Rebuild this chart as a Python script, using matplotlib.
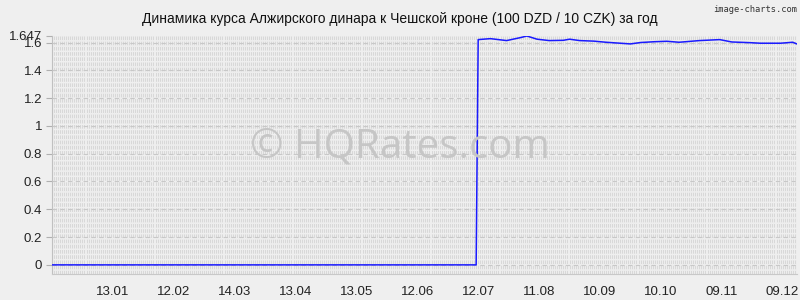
import datetime as dt
import matplotlib
matplotlib.use("Agg")
import matplotlib.pyplot as plt
import numpy as np

plt.rcParams['font.family'] = ['Liberation Sans', 'DejaVu Sans']

title = "Динамика курса Алжирского динара к Чешской кроне (100 DZD / 10 CZK) за год"
watermark = "© HQRates.com"

# rate per day (100 DZD / 10 CZK)
dates = ["2012-12-14", "2013-07-10", "2013-07-11",
         "2013-07-12", "2013-07-18", "2013-07-26", "2013-08-02", "2013-08-05",
         "2013-08-10", "2013-08-16", "2013-08-23", "2013-08-26", "2013-08-31",
         "2013-09-07", "2013-09-13", "2013-09-20", "2013-09-25", "2013-09-30",
         "2013-10-07", "2013-10-13", "2013-10-19", "2013-10-29", "2013-11-08",
         "2013-11-14", "2013-11-23", "2013-11-28", "2013-12-08", "2013-12-14",
         "2013-12-16"]
rates = [0, 0, 0,
         1.621, 1.628, 1.614, 1.636, 1.647,
         1.624, 1.614, 1.616, 1.624, 1.614,
         1.610, 1.602, 1.595, 1.590, 1.600,
         1.606, 1.609, 1.602, 1.614, 1.621,
         1.604, 1.599, 1.595, 1.595, 1.602,
         1.590]

tick_dates = ["2013-01-13", "2013-02-12", "2013-03-14", "2013-04-13",
              "2013-05-13", "2013-06-12", "2013-07-12", "2013-08-11",
              "2013-09-10", "2013-10-10", "2013-11-09", "2013-12-09"]
tick_labels = ["13.01", "12.02", "14.03", "13.04", "13.05", "12.06",
               "12.07", "11.08", "10.09", "10.10", "09.11", "09.12"]
y_ticks = [0, 0.2, 0.4, 0.6, 0.8, 1, 1.2, 1.4, 1.6, 1.647]
y_labels = ["0", "0.2", "0.4", "0.6", "0.8", "1", "1.2", "1.4", "1.6", "1.647"]


def to_dt(s):
    return dt.datetime.strptime(s, "%Y-%m-%d")


bg = "#efefef"
fig = plt.figure(figsize=(8, 3), dpi=100, facecolor=bg)
ax = fig.add_axes([0.065, 0.087, 0.931, 0.793], facecolor=bg)

x0 = to_dt("2012-12-14")
x1 = to_dt("2013-12-16")
ymin, ymax = -0.065, 1.647

# dense dashed day grid
days = [x0 + dt.timedelta(days=i) for i in range((x1 - x0).days + 1)]
ax.vlines(days, ymin, ymax, colors="#d8d8d8", linewidth=0.75,
          linestyles=[(0, (3.5, 1.5))], zorder=1)

# major horizontal grid
for yv in y_ticks[:-1]:
    ax.axhline(yv, color="#c8c8c8", linewidth=0.8, dashes=(4, 3), zorder=1)

ax.plot([to_dt(d) for d in dates], rates, color="#1a1aff", linewidth=1.1, zorder=3)

fig.text(0.5, 0.51, watermark, ha="center", va="center",
         fontsize=29, color="#c6c6c6", family=["Open Sans", "DejaVu Sans"], zorder=2)

ax.set_xlim(x0, x1)
ax.set_ylim(ymin, ymax)
ax.set_xticks([to_dt(d) for d in tick_dates])
ax.set_xticklabels(tick_labels)
ax.set_yticks(y_ticks)
ax.set_yticklabels(y_labels)
ax.tick_params(axis="x", length=0, labelsize=9.5, colors="#222222", pad=9)
ax.tick_params(axis="y", length=4, color="#b0b0b0", labelsize=9.5,
               labelcolor="#222222", pad=3)

for s in ["top", "right"]:
    ax.spines[s].set_visible(False)
ax.spines["left"].set_color("#c0c0c0")
ax.spines["left"].set_linewidth(0.8)
ax.spines["bottom"].set_color("#c8c8c8")
ax.spines["bottom"].set_linestyle((0, (1, 1)))
ax.spines["bottom"].set_linewidth(0.8)

fig.text(0.5, 0.937, title, ha="center", va="center", fontsize=10, color="#111111")
fig.text(0.997, 0.985, "image-charts.com", ha="right", va="top", fontsize=6.3,
         color="#333333", family=["DejaVu Sans Mono"])

fig.savefig("out.png", dpi=100, facecolor=bg)
